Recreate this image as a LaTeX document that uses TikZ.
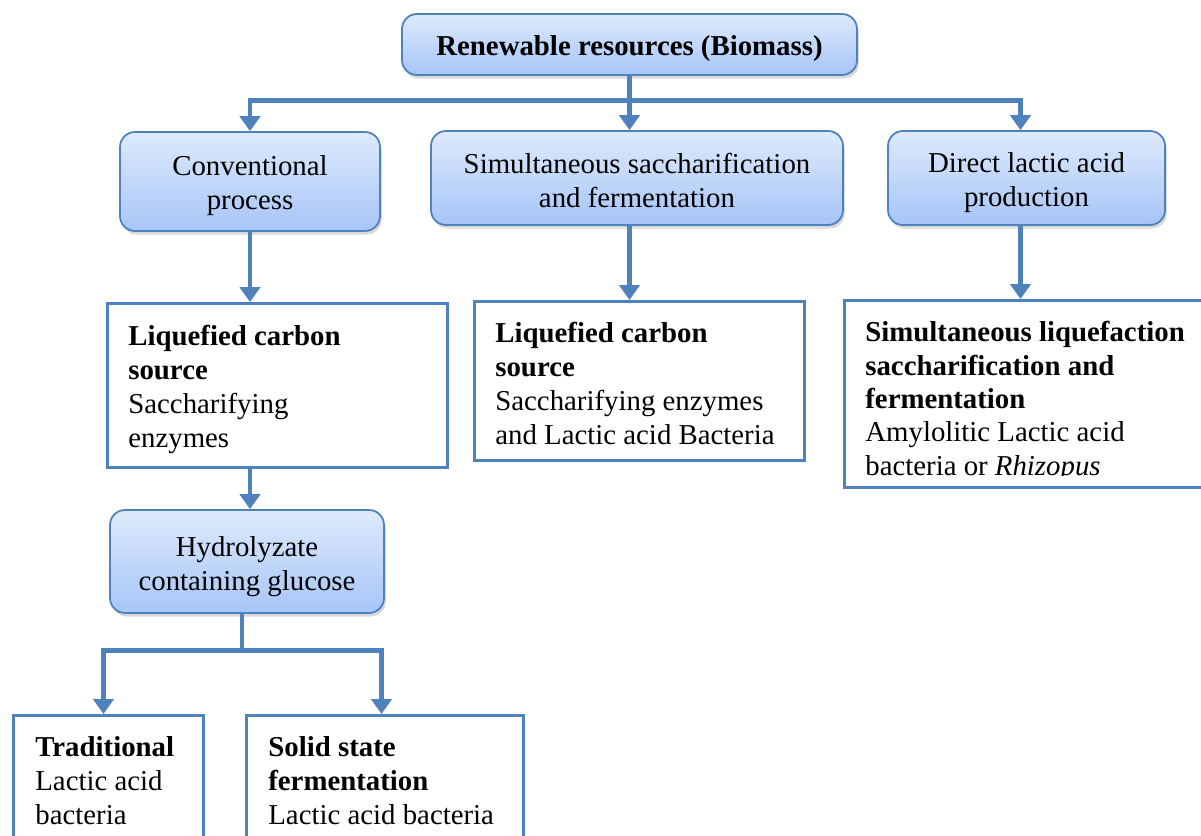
\documentclass[tikz,border=0pt]{standalone}
\usepackage{fontspec}
\setmainfont{Liberation Serif}
\usetikzlibrary{arrows.meta,shadows}
\definecolor{edgeblue}{RGB}{79,129,189}
\definecolor{filltop}{RGB}{222,234,252}
\definecolor{fillbot}{RGB}{166,197,247}

\begin{document}
\begin{tikzpicture}[
    font=\fontsize{16.4pt}{19.3pt}\selectfont,
    roundbox/.style={draw=edgeblue, line width=1pt, rounded corners=0.3cm,
      top color=filltop, bottom color=fillbot,
      drop shadow={shadow xshift=1pt, shadow yshift=-2pt, opacity=0.3}},
    roundtext/.style={align=center, inner sep=0pt},
    sqbox/.style={draw=edgeblue, line width=1.7pt, fill=white, anchor=north west},
    boxtext/.style={anchor=north west, align=left, inner sep=0pt},
    link/.style={draw=edgeblue, line width=2.8pt, miter limit=10},
    conn/.style={link, -{Triangle[width=11.5pt,length=8.5pt]}}
  ]
  \useasboundingbox (0cm,0cm) rectangle (24.02cm,-16.72cm);
  \clip (0cm,0cm) rectangle (24.02cm,-16.72cm);

  \node[roundbox, minimum width=9.1cm, minimum height=1.22cm] (top) at (12.59cm,-0.89cm) {};
  \node[roundtext] (toptxt) at ([yshift=-0.08cm]top.center) {\textbf{Renewable resources (Biomass)}};
  \node[roundbox, minimum width=5.2cm, minimum height=1.98cm] (conv) at (5.0cm,-3.63cm) {};
  \node[roundtext] (convtxt) at ([yshift=-0.08cm]conv.center) {Conventional\\process};
  \node[roundbox, minimum width=8.24cm, minimum height=1.88cm] (ssf) at (12.74cm,-3.56cm) {};
  \node[roundtext] (ssftxt) at ([yshift=-0.05cm]ssf.center) {Simultaneous saccharification\\and fermentation};
  \node[roundbox, minimum width=5.54cm, minimum height=1.88cm] (direct) at (20.53cm,-3.56cm) {};
  \node[roundtext] (directtxt) at ([yshift=-0.1cm]direct.center) {Direct lactic acid\\production};
  \node[roundbox, minimum width=5.48cm, minimum height=2.06cm] (hydro) at (4.94cm,-11.23cm) {};
  \node[roundtext] (hydrotxt) at ([yshift=-0.1cm]hydro.center) {Hydrolyzate\\containing glucose};

  \node[sqbox, minimum width=6.8cm, minimum height=3.28cm] (liqL) at (2.12cm,-6.04cm) {};
  \node[boxtext] (liqLtxt) at ([shift={(0.44cm,-0.46cm)}]liqL.north west) {\textbf{Liquefied carbon}\\\textbf{source}\\Saccharifying\\enzymes};
  \node[sqbox, minimum width=6.6cm, minimum height=3.18cm] (liqM) at (9.46cm,-6.0cm) {};
  \node[boxtext] (liqMtxt) at ([shift={(0.44cm,-0.44cm)}]liqM.north west) {\textbf{Liquefied carbon}\\\textbf{source}\\Saccharifying enzymes\\and Lactic acid Bacteria};
  \node[sqbox, minimum width=7.4cm, minimum height=3.74cm] (liqR) at (16.86cm,-5.98cm) {};
  \begin{scope}
    \clip ([shift={(0.1cm,-0.1cm)}]liqR.north west) rectangle ([yshift=0.26cm]liqR.south east);
    \node[boxtext, font=\fontsize{16.4pt}{19pt}\selectfont] (liqRtxt) at ([shift={(0.44cm,-0.44cm)}]liqR.north west) {\textbf{Simultaneous liquefaction}\\\textbf{saccharification and}\\\textbf{fermentation}\\Amylolitic Lactic acid\\bacteria or \textit{Rhizopus}};
  \end{scope}
  \node[sqbox, minimum width=3.8cm, minimum height=3.0cm] (trad) at (0.24cm,-14.28cm) {};
  \node[boxtext] (tradtxt) at ([shift={(0.46cm,-0.44cm)}]trad.north west) {\textbf{Traditional}\\Lactic acid\\bacteria};
  \node[sqbox, minimum width=5.54cm, minimum height=3.0cm] (solid) at (4.9cm,-14.28cm) {};
  \node[boxtext] (solidtxt) at ([shift={(0.46cm,-0.44cm)}]solid.north west) {\textbf{Solid state}\\\textbf{fermentation}\\Lactic acid bacteria};

  \coordinate (bus) at ([yshift=-0.5cm]top.south);
  \coordinate (dropR) at ([xshift=-0.12cm]direct.north);
  \coordinate (hydroout) at ([xshift=-0.1cm]hydro.south);
  \coordinate (split) at ([yshift=-0.74cm]hydroout);
  \coordinate (dropT) at ([xshift=-0.1cm]trad.north);
  \coordinate (dropS) at ([xshift=-0.07cm]solid.north);
  \draw[conn] (top.south) -- (top.south |- ssf.north);
  \draw[conn] (bus) -- (conv.north |- bus) -- (conv.north);
  \draw[conn] (bus) -- (dropR |- bus) -- (dropR);
  \draw[conn] (conv.south) -- (conv.south |- liqL.north);
  \draw[conn] (conv.south |- liqL.south) -- (conv.south |- hydro.north);
  \draw[conn] (top.south |- ssf.south) -- (top.south |- liqM.north);
  \draw[conn] (dropR |- direct.south) -- (dropR |- liqR.north);
  \draw[link] (hydroout) -- (split);
  \draw[conn] (split) -- (dropT |- split) -- (dropT);
  \draw[conn] (split) -- (dropS |- split) -- (dropS);
\end{tikzpicture}
\end{document}
